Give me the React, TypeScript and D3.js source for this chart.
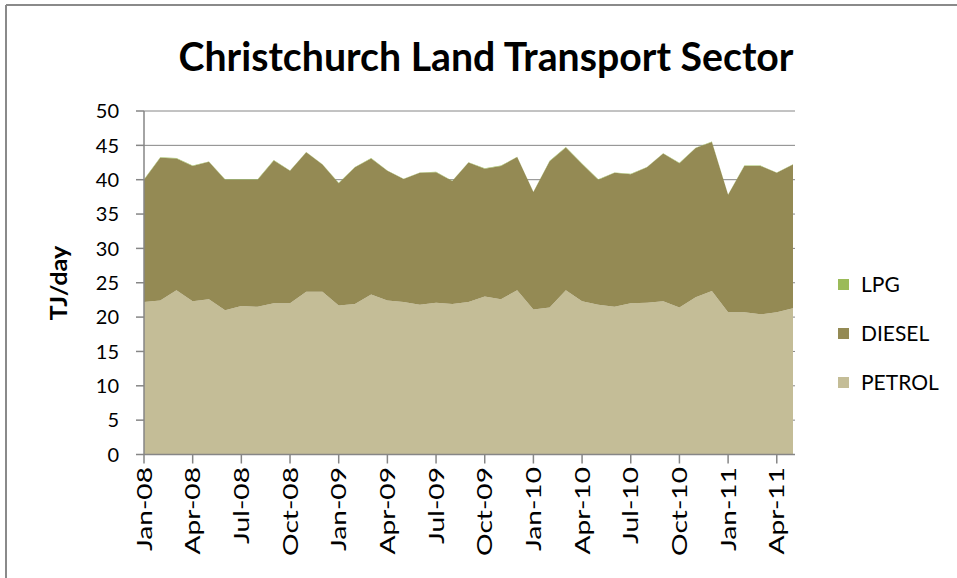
import * as d3 from "d3";

const months = [
  "Jan-08", "Feb-08", "Mar-08", "Apr-08", "May-08", "Jun-08", "Jul-08", "Aug-08", "Sep-08", "Oct-08", "Nov-08", "Dec-08",
  "Jan-09", "Feb-09", "Mar-09", "Apr-09", "May-09", "Jun-09", "Jul-09", "Aug-09", "Sep-09", "Oct-09", "Nov-09", "Dec-09",
  "Jan-10", "Feb-10", "Mar-10", "Apr-10", "May-10", "Jun-10", "Jul-10", "Aug-10", "Sep-10", "Oct-10", "Nov-10", "Dec-10",
  "Jan-11", "Feb-11", "Mar-11", "Apr-11", "May-11",
];

// TJ/day
const petrol = [
  22.2, 22.4, 23.9, 22.3, 22.6, 21.0, 21.6, 21.5, 22.0, 22.0, 23.7, 23.7,
  21.7, 21.9, 23.3, 22.4, 22.2, 21.8, 22.1, 21.9, 22.2, 23.0, 22.6, 23.9,
  21.1, 21.4, 23.9, 22.3, 21.8, 21.5, 22.0, 22.1, 22.3, 21.4, 22.9, 23.8,
  20.7, 20.7, 20.4, 20.7, 21.3,
];
const diesel = [
  17.8, 20.8, 19.2, 19.7, 20.0, 19.0, 18.4, 18.5, 20.8, 19.3, 20.3, 18.5,
  17.8, 19.9, 19.8, 18.9, 17.9, 19.2, 19.0, 17.9, 20.3, 18.6, 19.4, 19.4,
  17.1, 21.3, 20.8, 20.0, 18.2, 19.5, 18.8, 19.7, 21.5, 21.0, 21.7, 21.7,
  17.1, 21.3, 21.6, 20.3, 20.9,
];
const lpg = [
  0.05, 0.05, 0.05, 0.05, 0.05, 0.05, 0.05, 0.05, 0.05, 0.05, 0.05, 0.05,
  0.05, 0.05, 0.05, 0.05, 0.05, 0.05, 0.05, 0.05, 0.05, 0.05, 0.05, 0.05,
  0.05, 0.05, 0.05, 0.05, 0.05, 0.05, 0.05, 0.05, 0.05, 0.05, 0.05, 0.05,
  0.05, 0.05, 0.05, 0.05, 0.05,
];

const yTicks = [0, 5, 10, 15, 20, 25, 30, 35, 40, 45, 50];
const keys = ["PETROL", "DIESEL", "LPG"];
const colors: Record<string, string> = {
  PETROL: "#c4bd97",
  DIESEL: "#948a54",
  LPG: "#9bbb59",
};
const legendOrder = ["LPG", "DIESEL", "PETROL"];

const W = 957;
const H = 578;
const left = 144;
const right = 793;
const top = 111;
const bottom = 454.5;
const font = "Lato, 'Open Sans', sans-serif";

export default function App() {
  const rows = months.map((m, i) => ({
    month: m,
    PETROL: petrol[i],
    DIESEL: diesel[i],
    LPG: lpg[i],
  }));
  const series = d3.stack<any>().keys(keys)(rows);

  const x = d3.scalePoint<string>().domain(months).range([left, right]);
  const y = d3.scaleLinear().domain([0, 50]).range([bottom, top]);

  const area = d3
    .area<any>()
    .x((d) => x(d.data.month)!)
    .y0((d) => y(d[0]))
    .y1((d) => y(d[1]));

  const xTicks = months.filter((_, i) => i % 3 === 0);
  const axisColor = "#868686";

  return (
    <svg width={W} height={H} style={{ position: "absolute", left: 0, top: 0, background: "#fff" }}>
      <line x1={6} y1={5} x2={W} y2={5} stroke="#8a8a8a" strokeWidth={2} />
      <line x1={6} y1={5} x2={6} y2={H} stroke="#8a8a8a" strokeWidth={2} />

      <text x={486} y={71} textAnchor="middle" fontFamily={font} fontWeight="bold" fontSize={40} textLength={615} lengthAdjust="spacingAndGlyphs" fill="#000">
        Christchurch Land Transport Sector
      </text>

      {/* gridlines */}
      {yTicks.filter((t) => t > 0).map((t) => (
        <line key={t} x1={left} x2={right + 2} y1={y(t)} y2={y(t)} stroke={axisColor} strokeWidth={1} />
      ))}

      {series.map((s) => (
        <path key={s.key} d={area(s as any)!} fill={colors[s.key]} />
      ))}

      {/* y axis */}
      <line x1={left} x2={left} y1={top} y2={bottom} stroke={axisColor} strokeWidth={1.5} />
      {yTicks.map((t) => (
        <g key={t}>
          <line x1={left - 8} x2={left} y1={y(t)} y2={y(t)} stroke={axisColor} strokeWidth={1.5} />
          <text x={119} y={y(t)} dy="0.36em" textAnchor="end" fontFamily={font} fontSize={20} fill="#000">
            {t}
          </text>
        </g>
      ))}
      <text transform={`translate(67,283) rotate(-90) scale(1.15,1)`} textAnchor="middle" fontFamily={font} fontWeight="bold" fontSize={22} fill="#000">
        TJ/day
      </text>

      {/* x axis */}
      <line x1={left} x2={right + 2} y1={bottom} y2={bottom} stroke={axisColor} strokeWidth={1.5} />
      {xTicks.map((m) => (
        <g key={m}>
          <line x1={x(m)} x2={x(m)} y1={bottom} y2={bottom + 9} stroke={axisColor} strokeWidth={1.5} />
          <text transform={`translate(${x(m)! + 7.5},467) rotate(-90) scale(1.28,1)`} textAnchor="end" fontFamily={font} fontSize={22} fill="#000">
            {m}
          </text>
        </g>
      ))}

      {/* legend */}
      {legendOrder.map((k, i) => (
        <g key={k} transform={`translate(838,${292 + i * 49})`}>
          <rect x={0} y={-13} width={11} height={11} fill={colors[k]} />
          <text x={23} y={0} fontFamily={font} fontSize={21} fill="#000">
            {k}
          </text>
        </g>
      ))}
    </svg>
  );
}
